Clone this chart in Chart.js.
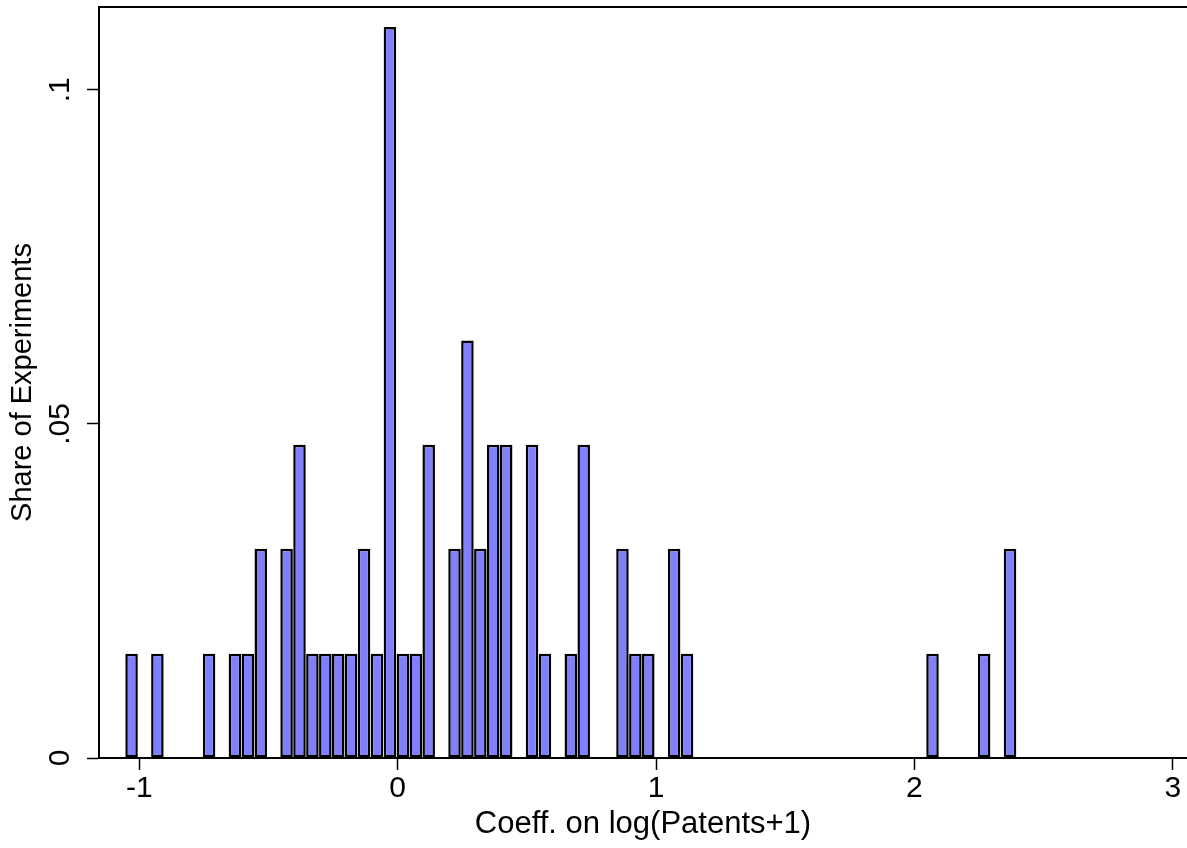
<!DOCTYPE html>
<html>
<head>
<meta charset="utf-8">
<title>Share of Experiments</title>
<script src="https://cdn.jsdelivr.net/npm/chart.js@4/dist/chart.umd.min.js"></script>
<style>
  html, body { margin: 0; padding: 0; background: #fff; }
  #wrap { width: 1187px; height: 848px; }
</style>
</head>
<body>
<div id="wrap"><canvas id="hist" width="1187" height="848"></canvas></div>
<script>
// Histogram bins (centres, width 0.05) and share of experiments in each
const binCenters = [-1.03, -0.93, -0.73, -0.63, -0.58, -0.53, -0.43, -0.38, -0.33, -0.28,
                    -0.23, -0.18, -0.13, -0.08, -0.03, 0.02, 0.07, 0.12, 0.22, 0.27,
                    0.32, 0.37, 0.42, 0.52, 0.57, 0.67, 0.72, 0.87, 0.92, 0.97,
                    1.07, 1.12, 2.07, 2.27, 2.37];
const shares = [0.0156, 0.0156, 0.0156, 0.0156, 0.0156, 0.0313, 0.0313, 0.0469, 0.0156, 0.0156,
                0.0156, 0.0156, 0.0313, 0.0156, 0.1094, 0.0156, 0.0156, 0.0469, 0.0313, 0.0625,
                0.0313, 0.0469, 0.0469, 0.0469, 0.0156, 0.0156, 0.0469, 0.0313, 0.0156, 0.0156,
                0.0313, 0.0156, 0.0156, 0.0156, 0.0313];

// Axis ticks
const xTickValues = [-1, 0, 1, 2, 3];
const yTickValues = [0, 0.05, 0.1];
const yTickLabels = ['0', '.05', '.1'];

const fontFamily = "'Liberation Sans', Arial, Helvetica, sans-serif";

// Top edge of the plot region
const frameLine = {
  id: 'frameLine',
  afterDraw(chart) {
    const { ctx, chartArea } = chart;
    ctx.save();
    ctx.strokeStyle = '#000';
    ctx.lineWidth = 2;
    ctx.beginPath();
    ctx.moveTo(chartArea.left - 1, chartArea.top);
    ctx.lineTo(chartArea.right, chartArea.top);
    ctx.stroke();
    ctx.restore();
  }
};

const ctx = document.getElementById('hist').getContext('2d');

new Chart(ctx, {
  type: 'bar',
  data: {
    datasets: [{
      label: 'Share of Experiments',
      data: binCenters.map((x, i) => ({ x: x, y: shares[i] })),
      backgroundColor: '#8080ff',
      borderColor: '#000',
      borderWidth: 2.5,
      borderSkipped: false,
      barPercentage: 0.97,
      categoryPercentage: 1
    }]
  },
  options: {
    responsive: false,
    animation: false,
    devicePixelRatio: 1,
    layout: { padding: { top: 7, left: 0, right: 0, bottom: 0 } },
    plugins: {
      legend: { display: false },
      tooltip: { enabled: false }
    },
    scales: {
      x: {
        type: 'linear',
        min: -1.156,
        max: 3.055,
        offset: false,
        afterBuildTicks: function(scale) {
          scale.ticks = xTickValues.map(v => ({ value: v }));
        },
        afterFit: function(scale) {
          scale.height = 90;
          scale.paddingLeft = 0;
          scale.paddingRight = 0;
        },
        grid: {
          offset: false,
          drawOnChartArea: false,
          drawTicks: true,
          tickLength: 12,
          tickColor: '#000',
          tickWidth: 1.5
        },
        border: { display: true, color: '#000', width: 2 },
        ticks: {
          color: '#000',
          font: { family: fontFamily, size: 30 },
          padding: 1,
          maxRotation: 0,
          minRotation: 0,
          autoSkip: false
        },
        title: {
          display: true,
          text: 'Coeff. on log(Patents+1)',
          color: '#000',
          font: { family: fontFamily, size: 31 },
          padding: { top: 0, bottom: 5 }
        }
      },
      y: {
        type: 'linear',
        min: 0,
        max: 0.1124,
        afterBuildTicks: function(scale) {
          scale.ticks = yTickValues.map(v => ({ value: v }));
        },
        afterFit: function(scale) {
          scale.width = 99;
          scale.paddingTop = 0;
          scale.paddingBottom = 0;
        },
        grid: {
          drawOnChartArea: false,
          drawTicks: true,
          tickLength: 12,
          tickColor: '#000',
          tickWidth: 1.5
        },
        border: { display: true, color: '#000', width: 2 },
        ticks: {
          color: '#000',
          font: { family: fontFamily, size: 30 },
          padding: 5,
          minRotation: 90,
          maxRotation: 90,
          crossAlign: 'center',
          autoSkip: false,
          callback: function(value) {
            return yTickLabels[yTickValues.indexOf(value)];
          }
        },
        title: {
          display: true,
          text: 'Share of Experiments',
          color: '#000',
          font: { family: fontFamily, size: 29 },
          padding: { top: 6, bottom: 0 }
        }
      }
    }
  },
  plugins: [frameLine]
});
</script>
</body>
</html>
